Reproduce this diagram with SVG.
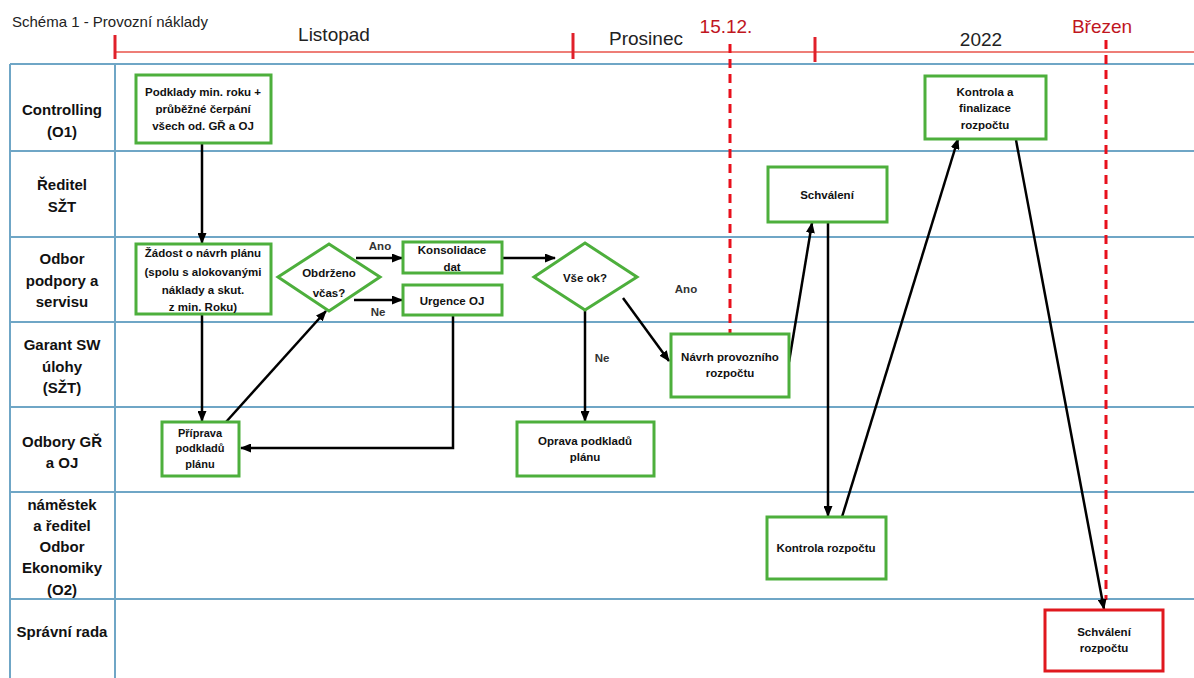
<svg xmlns="http://www.w3.org/2000/svg" width="1194" height="678" viewBox="0 0 1194 678">
<style>
text{font-family:"Liberation Sans",Arial,sans-serif}
.grid{stroke:#6fa6c6;stroke-width:2;fill:none}
.lane{font-size:15px;font-weight:bold;fill:#111;text-anchor:middle}
.box{fill:#fff;stroke:#4daf3c;stroke-width:3}
.rbox{fill:#fff;stroke:#e0181e;stroke-width:3}
.bt{font-size:11.5px;font-weight:bold;fill:#111;text-anchor:middle}
.lbl{font-size:11.5px;font-weight:bold;fill:#333;text-anchor:middle}
.tl{font-size:19px;fill:#222;text-anchor:middle}
.tr{font-size:19px;fill:#c0161e;text-anchor:middle}
.tick{stroke:#e0202a;stroke-width:3}
.dash{stroke:#e8101c;stroke-width:3;stroke-dasharray:9 6;fill:none}
.con{stroke:#000;stroke-width:2.5;fill:none}
</style>
<defs>
<marker id="ah" markerUnits="userSpaceOnUse" markerWidth="11" markerHeight="9" refX="10" refY="4.5" orient="auto">
<path d="M0,0 L11,4.5 L0,9 z" fill="#000"/>
</marker>
</defs>
<rect width="1194" height="678" fill="#fff"/>
<text x="12" y="27" style="font-size:15px;fill:#222">Schéma 1 - Provozní náklady</text>
<g id="timeline">
<line x1="115" y1="52" x2="1194" y2="52" stroke="#e8534a" stroke-width="1.5"/>
<line class="tick" x1="115" y1="35" x2="115" y2="59"/>
<line class="tick" x1="573" y1="33" x2="573" y2="59"/>
<line class="tick" x1="815" y1="37" x2="815" y2="62"/>
<text class="tl" x="334" y="41">Listopad</text>
<text class="tl" x="646" y="45">Prosinec</text>
<text class="tr" x="726" y="33">15.12.</text>
<text class="tl" x="981" y="46">2022</text>
<text class="tr" x="1102" y="33">Březen</text>
</g>
<g id="grid">
<line class="grid" x1="10" y1="64" x2="10" y2="678"/>
<line class="grid" x1="115" y1="64" x2="115" y2="678"/>
<line class="grid" x1="10" y1="64" x2="1194" y2="64"/>
<line class="grid" x1="10" y1="151" x2="1194" y2="151"/>
<line class="grid" x1="10" y1="237" x2="1194" y2="237"/>
<line class="grid" x1="10" y1="322" x2="1194" y2="322"/>
<line class="grid" x1="10" y1="407" x2="1194" y2="407"/>
<line class="grid" x1="10" y1="492" x2="1194" y2="492"/>
<line class="grid" x1="10" y1="599" x2="1194" y2="599"/>
</g>
<g id="lanes">
<text class="lane" x="62" y="115">Controlling<tspan x="62" y="137">(O1)</tspan></text>
<text class="lane" x="62" y="190">Ředitel<tspan x="62" y="212">SŽT</tspan></text>
<text class="lane" x="62" y="264">Odbor<tspan x="62" y="286">podpory a</tspan><tspan x="62" y="307">servisu</tspan></text>
<text class="lane" x="62" y="350">Garant SW<tspan x="62" y="372">úlohy</tspan><tspan x="62" y="393">(SŽT)</tspan></text>
<text class="lane" x="62" y="447">Odbory GŘ<tspan x="62" y="468">a OJ</tspan></text>
<text class="lane" x="62" y="510">náměstek<tspan x="62" y="531">a ředitel</tspan><tspan x="62" y="552">Odbor</tspan><tspan x="62" y="573">Ekonomiky</tspan><tspan x="62" y="595">(O2)</tspan></text>
<text class="lane" x="62" y="637">Správní rada</text>
</g>
<g id="deadlines">
<line class="dash" x1="730" y1="44" x2="730" y2="334"/>
<line class="dash" x1="1106" y1="40" x2="1106" y2="600"/>
</g>
<g id="connectors">
<path class="con" d="M202,143 V243" marker-end="url(#ah)"/>
<path class="con" d="M202,314 V421" marker-end="url(#ah)"/>
<path class="con" d="M226,422 L326,311" marker-end="url(#ah)"/>
<path class="con" d="M356,258 H402" marker-end="url(#ah)"/>
<path class="con" d="M354,300 H402" marker-end="url(#ah)"/>
<path class="con" d="M453,315 V448 H241" marker-end="url(#ah)"/>
<path class="con" d="M502,258 H555" marker-end="url(#ah)"/>
<path class="con" d="M585,310 V421" marker-end="url(#ah)"/>
<path class="con" d="M623,298 L669,361" marker-end="url(#ah)"/>
<path class="con" d="M789,362 L812,223" marker-end="url(#ah)"/>
<path class="con" d="M828,222 V516" marker-end="url(#ah)"/>
<path class="con" d="M842,517 L958,139" marker-end="url(#ah)"/>
<path class="con" d="M1016,140 L1104,609" marker-end="url(#ah)"/>
<text class="lbl" x="380" y="250">Ano</text>
<text class="lbl" x="378" y="316">Ne</text>
<text class="lbl" x="602" y="362">Ne</text>
<text class="lbl" x="686" y="293">Ano</text>
</g>
<g id="podklady">
<rect class="box" x="136" y="75" width="135" height="68"/>
<text class="bt" x="203" y="96">Podklady min. roku +<tspan x="203" y="113">průběžné čerpání</tspan><tspan x="203" y="130">všech od. GŘ a OJ</tspan></text>
</g>
<g id="zadost">
<rect class="box" x="136" y="244" width="135" height="70"/>
<text class="bt" x="203" y="257">Žádost o návrh plánu<tspan x="203" y="276">(spolu s alokovanými</tspan><tspan x="203" y="294">náklady a skut.</tspan><tspan x="203" y="311">z min. Roku)</tspan></text>
</g>
<g id="obdrzeno">
<polygon class="box" points="329,244 380,277 329,311 278,277"/>
<text class="bt" x="329" y="277">Obdrženo<tspan x="329" y="297">včas?</tspan></text>
</g>
<g id="konsolidace">
<rect class="box" x="403" y="242" width="99" height="31"/>
<text class="bt" x="452" y="254">Konsolidace<tspan x="452" y="271">dat</tspan></text>
</g>
<g id="urgence">
<rect class="box" x="403" y="285" width="99" height="30"/>
<text class="bt" x="452" y="305">Urgence OJ</text>
</g>
<g id="vseok">
<polygon class="box" points="585,243 637,277 585,310 534,277"/>
<text class="bt" x="585" y="282">Vše ok?</text>
</g>
<g id="priprava">
<rect class="box" x="162" y="422" width="77" height="54"/>
<text class="bt" x="200" y="437" style="font-size:11px">Příprava<tspan x="200" y="452">podkladů</tspan><tspan x="200" y="468">plánu</tspan></text>
</g>
<g id="oprava">
<rect class="box" x="517" y="422" width="137" height="54"/>
<text class="bt" x="585" y="445">Oprava podkladů<tspan x="585" y="461">plánu</tspan></text>
</g>
<g id="navrh">
<rect class="box" x="671" y="334" width="118" height="63"/>
<text class="bt" x="730" y="361">Návrh provozního<tspan x="730" y="377">rozpočtu</tspan></text>
</g>
<g id="schvaleni">
<rect class="box" x="768" y="167" width="119" height="55"/>
<text class="bt" x="827" y="199">Schválení</text>
</g>
<g id="kontrola">
<rect class="box" x="767" y="517" width="119" height="62"/>
<text class="bt" x="826" y="552">Kontrola rozpočtu</text>
</g>
<g id="finalizace">
<rect class="box" x="925" y="76" width="121" height="63"/>
<text class="bt" x="985" y="96">Kontrola a<tspan x="985" y="112">finalizace</tspan><tspan x="985" y="129">rozpočtu</tspan></text>
</g>
<g id="schvaleni-rozpoctu">
<rect class="rbox" x="1045" y="610" width="118" height="61"/>
<text class="bt" x="1104" y="636">Schválení<tspan x="1104" y="652">rozpočtu</tspan></text>
</g>
</svg>
